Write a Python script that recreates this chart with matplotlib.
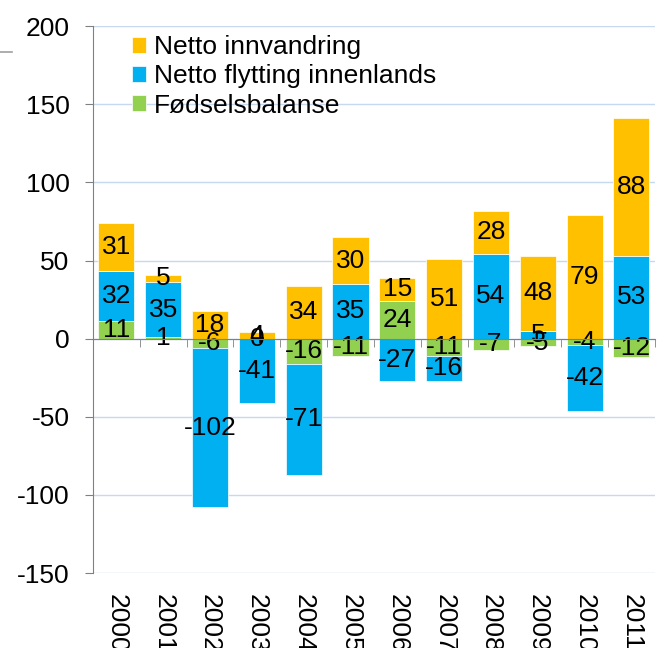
"""Stacked population change bars, 2000-2011."""

import matplotlib

matplotlib.use("Agg")
import matplotlib.pyplot as plt
import numpy as np
from matplotlib.lines import Line2D

plt.rcParams["font.family"] = ["Liberation Sans", "DejaVu Sans"]
plt.rcParams["axes.unicode_minus"] = False

years = ["2000", "2001", "2002", "2003", "2004", "2005",
         "2006", "2007", "2008", "2009", "2010", "2011"]
fodselsbalanse = [11, 1, -6, 0, -16, -11, 24, -11, -7, -5, -4, -12]
netto_flytting = [32, 35, -102, -41, -71, 35, -27, -16, 54, 5, -42, 53]
netto_innvandring = [31, 5, 18, 4, 34, 30, 15, 51, 28, 48, 79, 88]

series = [
    ("Fødselsbalanse", fodselsbalanse, "#92D050"),
    ("Netto flytting innenlands", netto_flytting, "#00B0F0"),
    ("Netto innvandring", netto_innvandring, "#FFC000"),
]

FS = 19

fig = plt.figure(figsize=(6.61, 6.48), dpi=100)
ax = fig.add_axes([0.1407, 0.1157, 0.85, 0.844])

x = np.arange(len(years))
pos_base = np.zeros(len(years))
neg_base = np.zeros(len(years))
handles = {}
for name, vals, color in series:
    vals = np.array(vals, dtype=float)
    bottom = np.where(vals >= 0, pos_base, neg_base)
    bars = ax.bar(x, vals, width=0.77, bottom=bottom, color=color,
                  edgecolor="white", linewidth=0.5, label=name, zorder=2)
    handles[name] = bars
    for xi, b, v in zip(x, bottom, vals):
        ax.text(xi, b + v / 2, f"{int(v)}", ha="center", va="center",
                fontsize=FS, color="black", zorder=3)
    pos_base = np.where(vals >= 0, pos_base + vals, pos_base)
    neg_base = np.where(vals < 0, neg_base + vals, neg_base)

ax.set_xlim(-0.5, len(years) - 0.5)
ax.set_ylim(-150, 200)
ax.set_yticks(np.arange(-150, 201, 50))
ax.tick_params(axis="y", labelsize=FS, length=6, color="#808080", pad=11)
ax.yaxis.grid(True, color="#C6D9F1", linewidth=1, zorder=0)
ax.set_axisbelow(True)

# zero line with category tick marks, using the top spine
ax.spines["top"].set_position(("data", 0))
ax.spines["top"].set_color("#808080")
ax.spines["top"].set_zorder(4)
ax.spines["bottom"].set_visible(False)
ax.spines["right"].set_visible(False)
ax.spines["left"].set_color("#808080")

ax.set_xticks(x)
ax.set_xticklabels(years, rotation=270, fontsize=FS, va="top", ha="center")
ax.tick_params(axis="x", which="major", length=0, pad=15,
               top=False, bottom=True)
ax.set_xticks(np.arange(-0.5, len(years), 1), minor=True)
ax.tick_params(axis="x", which="minor", top=True, bottom=False,
               direction="in", length=6, color="#808080")

order = ["Netto innvandring", "Netto flytting innenlands", "Fødselsbalanse"]
ax.legend([handles[n] for n in order], order, loc="upper left",
          bbox_to_anchor=(0.05, 1.003), frameon=False, fontsize=FS,
          handlelength=0.55, handleheight=0.55, handletextpad=0.3,
          labelspacing=0.2, borderaxespad=0)

fig.add_artist(Line2D([0, 0.018], [0.919, 0.919], color="#A0A0A0",
                      linewidth=1.2, transform=fig.transFigure))

fig.savefig("out.png", dpi=100)
